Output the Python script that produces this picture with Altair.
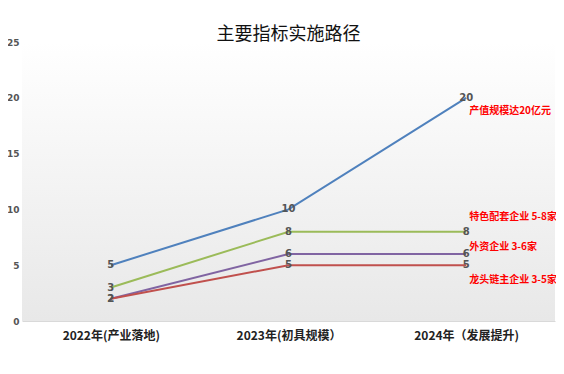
import altair as alt
import pandas as pd

categories = ["2022年(产业落地)", "2023年(初具规模）", "2024年（发展提升)"]
series_names = ["产值规模", "特色配套企业", "外资企业", "龙头链主企业"]
series_colors = ["#4F81BD", "#9BBB59", "#8064A2", "#C0504D"]
values_output = [5, 10, 20]
values_support = [3, 8, 8]
values_foreign = [2, 6, 6]
values_leader = [2, 5, 5]

notes = ["产值规模达20亿元", "特色配套企业 5-8家", "外资企业 3-6家", "龙头链主企业 3-5家"]
note_y = [18.8, 9.35, 6.6, 3.65]

rows = []
for name, vals in zip(series_names, [values_output, values_support, values_foreign, values_leader]):
    for c, v in zip(categories, vals):
        rows.append({"cat": c, "series": name, "value": v})
df = pd.DataFrame(rows)
notes_df = pd.DataFrame({"cat": [categories[-1]] * 4, "note": notes, "y": note_y})

W, H = 533, 279

x = alt.X("cat:N", sort=categories, title=None,
          scale=alt.Scale(type="point", padding=0.5),
          axis=alt.Axis(labelAngle=0, labelFont="Noto Sans CJK SC", labelFontSize=12,
                        labelFontWeight="bold", labelColor="#222", labelPadding=9,
                        domain=True, domainColor="#d9d9d9", ticks=False,
                        grid=True, gridColor="#dedede", gridWidth=1))
y = alt.Y("value:Q", title=None,
          scale=alt.Scale(domain=[0, 25]),
          axis=alt.Axis(values=[0, 5, 10, 15, 20, 25], labelFont="DejaVu Sans", labelFontSize=9,
                        labelFontWeight="bold", labelColor="#555", domain=False, ticks=False,
                        grid=False, labelPadding=3))

bg = alt.Chart(pd.DataFrame({"a": [0]})).mark_rect(
    fill=alt.LinearGradient(gradient="linear", x1=0, y1=0, x2=0, y2=1,
                            stops=[alt.GradientStop(offset=0, color="#ffffff"),
                                   alt.GradientStop(offset=1, color="#e8e8e8")])
).encode(x=alt.value(0), x2=alt.value(W), y=alt.value(0), y2=alt.value(H))

base = alt.Chart(df)
lines = base.mark_line(strokeWidth=2).encode(
    x=x, y=y,
    color=alt.Color("series:N", sort=series_names,
                    scale=alt.Scale(domain=series_names, range=series_colors), legend=None),
    detail="series:N",
)
labels = base.mark_text(font="DejaVu Sans", fontSize=10, fontWeight="bold", color="#555").encode(
    x=alt.X("cat:N", sort=categories, scale=alt.Scale(type="point", padding=0.5)),
    y=alt.Y("value:Q", scale=alt.Scale(domain=[0, 25])),
    text="value:Q",
)
note_text = alt.Chart(notes_df).mark_text(
    font="Noto Sans CJK SC", fontSize=10, fontWeight="bold", color="#FF0000", align="left", dx=3
).encode(
    x=alt.X("cat:N", sort=categories, scale=alt.Scale(type="point", padding=0.5)),
    y=alt.Y("y:Q", scale=alt.Scale(domain=[0, 25])),
    text="note:N",
)

chart = alt.layer(bg, lines, labels, note_text).properties(
    width=W, height=H,
    title=alt.TitleParams("主要指标实施路径", font="Noto Sans CJK SC", fontSize=18,
                          fontWeight="normal", color="#111", anchor="middle", offset=-6),
    autosize=alt.AutoSizeParams(type="none"),
    padding={"left": 14, "top": 34, "right": 1, "bottom": 40},
).configure_view(stroke=None)

chart.save("out.html", embed_options={"renderer": "svg", "actions": False})
